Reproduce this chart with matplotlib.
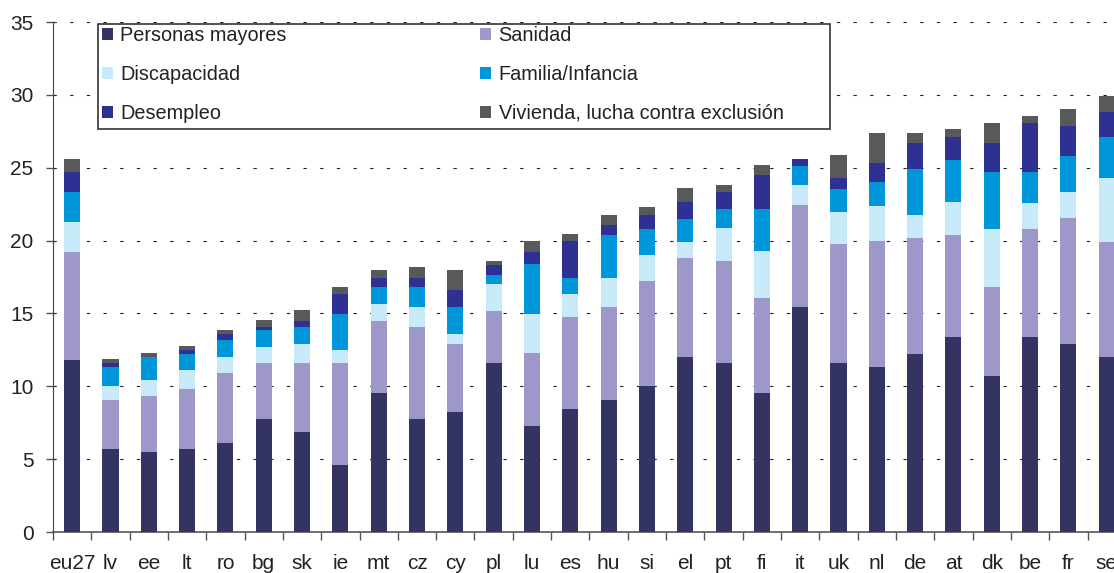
import numpy as np
import matplotlib
matplotlib.use("Agg")
import matplotlib.pyplot as plt
from matplotlib.patches import Rectangle

plt.rcParams['font.family'] = ['Liberation Sans', 'DejaVu Sans']

paises = ["eu27", "lv", "ee", "lt", "ro", "bg", "sk", "ie", "mt", "cz", "cy", "pl", "lu", "es",
          "hu", "si", "el", "pt", "fi", "it", "uk", "nl", "de", "at", "dk", "be", "fr", "se"]

# valores en % del PIB
personas_mayores = [11.83, 5.72, 5.51, 5.72, 6.13, 7.78, 6.89, 4.62, 9.57, 7.78, 8.26, 11.62, 7.30, 8.47,
                    9.08, 10.05, 12.04, 11.62, 9.57, 15.47, 11.62, 11.35, 12.24, 13.41, 10.73, 13.41, 12.93, 12.04]
sanidad = [7.41, 3.36, 3.85, 4.12, 4.81, 3.84, 4.73, 7.00, 4.94, 6.32, 4.67, 3.57, 5.01, 6.31,
           6.39, 7.20, 6.79, 7.01, 6.52, 7.00, 8.17, 8.65, 7.97, 7.00, 6.11, 7.41, 8.65, 7.89]
discapacidad = [2.06, 0.97, 1.10, 1.30, 1.10, 1.10, 1.31, 0.90, 1.17, 1.37, 0.69, 1.86, 2.68, 1.58,
                1.99, 1.79, 1.10, 2.26, 3.22, 1.37, 2.20, 2.40, 1.57, 2.27, 3.98, 1.79, 1.78, 4.33]
familia = [2.06, 1.30, 1.58, 1.10, 1.16, 1.17, 1.17, 2.47, 1.16, 1.37, 1.85, 0.62, 3.43, 1.10,
           2.95, 1.78, 1.58, 1.31, 2.89, 1.31, 1.58, 1.65, 3.16, 2.88, 3.92, 2.13, 2.47, 2.88]
desempleo = [1.37, 0.27, 0.00, 0.28, 0.42, 0.21, 0.41, 1.37, 0.62, 0.62, 1.17, 0.68, 0.82, 2.54,
             0.69, 0.96, 1.17, 1.16, 2.33, 0.48, 0.69, 1.30, 1.79, 1.58, 1.99, 3.36, 2.06, 1.65]
vivienda = [0.90, 0.28, 0.27, 0.27, 0.27, 0.48, 0.75, 0.48, 0.55, 0.75, 1.37, 0.28, 0.76, 0.48,
            0.68, 0.49, 0.96, 0.48, 0.69, 0.00, 1.64, 2.06, 0.68, 0.55, 1.37, 0.48, 1.17, 1.16]

nombres = ["Personas mayores", "Sanidad", "Discapacidad", "Familia/Infancia", "Desempleo",
           "Vivienda, lucha contra exclusión"]
colores = ["#343463", "#9e97c9", "#c7e9f8", "#0096da", "#2e3092", "#58595b"]

series = [personas_mayores, sanidad, discapacidad, familia, desempleo, vivienda]

fig = plt.figure(figsize=(11.14, 5.73), dpi=100)
ax = fig.add_axes([53 / 1114, 41 / 573, 1 - 53 / 1114, 510 / 573])

x = np.arange(len(paises))
base = np.zeros(len(paises))
barras = []
for vals, nom, col in zip(series, nombres, colores):
    b = ax.bar(x, vals, width=0.42, bottom=base, color=col, label=nom, zorder=3)
    barras.append(b)
    base = base + np.array(vals)

ax.set_ylim(0, 35)
ax.set_xlim(-0.5, 27.19)
ax.set_yticks(np.arange(0, 36, 5))
for v in np.arange(5, 36, 5):
    ax.axhline(v, color="#222222", lw=0.8, dashes=(3, 12), zorder=1)

ax.set_xticks(x)
ax.set_xticklabels(paises, fontsize=15, color="#222222")
ax.set_xticks(x - 0.5, minor=True)
ax.tick_params(axis="x", which="major", length=0, pad=16)
ax.tick_params(axis="x", which="minor", length=6, width=1, color="#555555", direction="out")
ax.tick_params(axis="y", length=5, width=1, color="#555555", labelsize=15, labelcolor="#222222", pad=9)

for s in ["top", "right"]:
    ax.spines[s].set_visible(False)
ax.spines["left"].set_color("#444444")
ax.spines["bottom"].set_color("#555555")
ax.spines["bottom"].set_linewidth(1.2)

# leyenda: columna 1 = Personas, Discapacidad, Desempleo
orden = [0, 2, 4, 1, 3, 5]
leg = fig.legend([barras[i] for i in orden], [nombres[i] for i in orden], ncol=2,
                 loc="upper left", bbox_to_anchor=(99 / 1114, 1 - 23 / 573), frameon=False,
                 fontsize=14.3, handlelength=0.55, handleheight=0.55, handletextpad=0.37,
                 labelspacing=1.0, columnspacing=9.75, borderpad=0.15, borderaxespad=0)
for t in leg.get_texts():
    t.set_color("#222222")
fig.patches.append(Rectangle((97.5 / 1114, 1 - 129 / 573), (830 - 97.5) / 1114, (129 - 24) / 573,
                             transform=fig.transFigure, fill=True, facecolor="white",
                             edgecolor="#333333", lw=1.2, zorder=4))
leg.set_zorder(5)

fig.savefig("out.png", dpi=100)
